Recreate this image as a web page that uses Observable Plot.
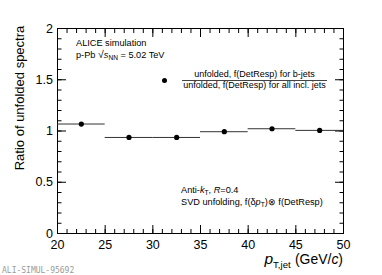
<!DOCTYPE html>
<html><head><meta charset="utf-8">
<script src="https://cdn.jsdelivr.net/npm/d3@7"></script>
<script src="https://cdn.jsdelivr.net/npm/@observablehq/plot@0.6"></script>
<style>
body{margin:0;background:#fff;font-family:"Liberation Sans",Arial,Helvetica,sans-serif}
#wrap{position:relative;width:382px;height:275px;overflow:hidden}
.t{position:absolute;white-space:nowrap;color:#000;line-height:1}
.s{font-size:0.72em;vertical-align:-0.35em}
</style></head><body>
<div id="wrap"></div>
<script>
// Data
const binLow  = [20, 25, 30, 35, 40, 45];
const binHigh = [25, 30, 35, 40, 45, 50];
const ratio   = [1.068, 0.937, 0.937, 0.993, 1.022, 1.006];
const xMajor = [20, 25, 30, 35, 40, 45, 50];
const yMajor = [0, 0.5, 1, 1.5, 2];
const yTickLabels = ["0", "0.5", "1", "1.5", "2"];

const data = binLow.map((lo, i) => ({lo, hi: binHigh[i], mid: (lo + binHigh[i]) / 2, r: ratio[i]}));
const xMinor = d3.range(20, 50.001, 1);
const yMinor = d3.range(0, 2.0001, 0.1).map(v => +v.toFixed(2));
const blank = () => "";

const plot = Plot.plot({
  width: 382, height: 275,
  marginLeft: 57, marginRight: 39, marginTop: 28, marginBottom: 42,
  style: {fontFamily: "Liberation Sans, Arial, sans-serif", fontSize: "12.5px", background: "white", color: "black"},
  x: {domain: [20, 50]},
  y: {domain: [0, 2]},
  marks: [
    // inward ticks on all four sides
    Plot.axisX({anchor: "bottom", ticks: xMajor, tickSize: -8, tickFormat: blank, label: null}),
    Plot.axisX({anchor: "bottom", ticks: xMinor, tickSize: -4, tickFormat: blank, label: null}),
    Plot.axisX({anchor: "top", ticks: xMajor, tickSize: -8, tickFormat: blank, label: null}),
    Plot.axisX({anchor: "top", ticks: xMinor, tickSize: -4, tickFormat: blank, label: null}),
    Plot.axisY({anchor: "left", ticks: yMajor, tickSize: -9, tickFormat: blank, label: null}),
    Plot.axisY({anchor: "left", ticks: yMinor, tickSize: -4.5, tickFormat: blank, label: null}),
    Plot.axisY({anchor: "right", ticks: yMajor, tickSize: -9, tickFormat: blank, label: null}),
    Plot.axisY({anchor: "right", ticks: yMinor, tickSize: -4.5, tickFormat: blank, label: null}),
    // labels
    Plot.axisX({anchor: "bottom", ticks: xMajor, tickSize: 0, tickPadding: 6.5, tickFormat: d => String(d), label: null, fontSize: 12.5}),
    Plot.axisY({anchor: "left", ticks: yMajor, tickSize: 0, tickPadding: 4.5, tickFormat: (d, i) => yTickLabels[i], label: null, fontSize: 12.5}),
    Plot.frame({stroke: "black", strokeWidth: 1}),
    // horizontal bin-width bars
    Plot.ruleY(data, {y: "r", x1: "lo", x2: "hi", stroke: "#333", strokeWidth: 1}),
    Plot.dot(data, {x: "mid", y: "r", r: 2.6, fill: "black", stroke: "none"})
  ]
});

const wrap = document.getElementById("wrap");
wrap.appendChild(plot);

function addText(html, style) {
  const d = document.createElement("div");
  d.className = "t";
  d.innerHTML = html;
  Object.assign(d.style, style);
  wrap.appendChild(d);
  return d;
}

addText("ALICE simulation", {left: "76px", top: "38.5px", fontSize: "9.2px"});
addText("p-Pb <span style='font-size:1.15em'>&radic;</span><i>s</i><span class='s'>NN</span> = 5.02 TeV", {left: "76px", top: "48.5px", fontSize: "9.2px"});

// legend
addText("<div style='text-align:center;'>unfolded, f(DetResp) for b-jets</div>" +
  "<div style='border-top:1px solid #444;margin:1px 0 0 0;'></div>" +
  "<div style='text-align:center;'>unfolded, f(DetResp) for all incl. jets</div>",
  {left: "182px", top: "69.5px", width: "145px", fontSize: "9px"});
const mk = document.createElement("div");
Object.assign(mk.style, {position: "absolute", left: "161.5px", top: "77.5px", width: "5.2px", height: "5.2px", borderRadius: "50%", background: "black"});
wrap.appendChild(mk);

addText("Anti-<i>k</i><span class='s'>T</span>, <i>R</i>=0.4", {left: "181px", top: "185.5px", fontSize: "9.2px"});
addText("SVD unfolding, f(&delta;<i>p</i><span class='s'>T</span>)&otimes; f(DetResp)", {left: "181px", top: "197.5px", fontSize: "9.2px"});

// axis titles
addText("<i>p</i><span style='font-size:0.62em;vertical-align:-0.45em'>T,jet</span> <span style='font-size:0.9em'>(GeV/<i>c</i>)</span>",
  {right: "39px", top: "252px", fontSize: "15.5px", lineHeight: "0.9"});
const yt = addText("Ratio of unfolded spectra", {left: "18.5px", top: "98px", fontSize: "13px"});
yt.style.transformOrigin = "center center";
yt.style.transform = "translate(-50%, -50%) rotate(-90deg)";

addText("ALI-SIMUL-95692", {left: "2px", top: "267px", fontSize: "8px", fontFamily: "'DejaVu Sans Mono','Liberation Mono',monospace", color: "#9a9a9a"});
</script>
</body></html>
